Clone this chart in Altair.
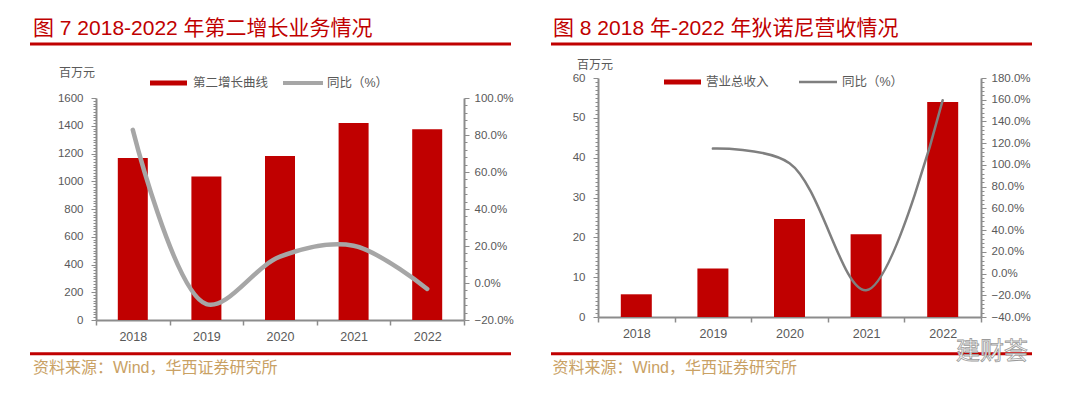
import altair as alt
import pandas as pd

# ---------------- data ----------------
years = ["2018", "2019", "2020", "2021", "2022"]
left_bars = [1168, 1035, 1182, 1420, 1374]          # 百万元
left_yoy = [82.8, -11.4, 14.2, 20.1, -3.2]          # %
right_bars = [5.7, 12.2, 24.6, 20.8, 54.0]          # 百万元
right_yoy = [None, 115.0, 101.6, -15.4, 159.6]      # %

left_title = "图 7 2018-2022 年第二增长业务情况"
right_title = "图 8 2018 年-2022 年狄诺尼营收情况"
left_bar_name = "第二增长曲线"
right_bar_name = "营业总收入"
yoy_name = "同比（%）"
unit_label = "百万元"
source_text = "资料来源：Wind，华西证券研究所"
watermark = "建财荟"

# ---------------- style ----------------
FONT = "Liberation Sans, Arial, Noto Sans CJK SC"
RED = "#C00000"
AX = "#8C8C8C"
LAB = "#595959"
SRC = "#C9A164"

one = pd.DataFrame({"k": [0]})


def txt(text, x, y, size, color, align="left", baseline="alphabetic", **kw):
    return alt.Chart(one).mark_text(
        text=text, align=align, baseline=baseline, fontSize=size,
        color=color, font=FONT, **kw
    ).encode(x=alt.value(x), y=alt.value(y))


def hrule(x1, x2, y, color, width):
    return alt.Chart(one).mark_rule(color=color, strokeWidth=width, strokeCap="butt").encode(
        x=alt.value(x1), x2=alt.value(x2), y=alt.value(y)
    )


def panel(bars, yoy, W, H, ytop, ymax, ymajor, yminor, pmin, pmax, pmajor, pminor,
          line_color, line_width, decos, bar_size):
    df = pd.DataFrame({"year": years, "value": bars, "yoy": yoy})
    xenc = alt.X(
        "year:N", sort=years, title=None,
        scale=alt.Scale(paddingInner=0, paddingOuter=0),
        axis=alt.Axis(labelAngle=0, tickBand="extent", domainColor=AX, domainWidth=2,
                      tickColor=AX, tickWidth=1.5, tickSize=5, labelColor=LAB,
                      labelFontSize=12.5, labelFont=FONT, labelPadding=5, grid=False),
    )
    bar = alt.Chart(df).mark_bar(size=bar_size, color=RED).encode(
        x=xenc,
        y=alt.Y(
            "value:Q", title=None,
            scale=alt.Scale(domain=[0, ymax], range=[H, ytop], nice=False, zero=True),
            axis=alt.Axis(
                orient="left", values=list(range(0, ymax + 1, yminor)), format="d",
                labelExpr=f"datum.value % {ymajor} === 0 ? datum.label : ''",
                tickSize={"condition": {"test": f"datum.value % {ymajor} === 0", "value": 5}, "value": 3},
                labelOverlap=False, grid=False, domainColor=AX, domainWidth=2,
                tickColor=AX, tickWidth=1, labelColor=LAB, labelFontSize=11.5,
                labelFont=FONT, labelPadding=8,
            ),
        ),
    )
    line = alt.Chart(df).mark_line(
        color=line_color, strokeWidth=line_width, interpolate="catmull-rom", strokeCap="round"
    ).encode(
        x=xenc,
        y=alt.Y(
            "yoy:Q", title=None,
            scale=alt.Scale(domain=[pmin, pmax], range=[H, ytop], nice=False, zero=False),
            axis=alt.Axis(
                orient="right", values=list(range(pmin, pmax + 1, pminor)),
                labelExpr=f"datum.value % {pmajor} === 0 ? format(datum.value, '.1f') + '%' : ''",
                tickSize={"condition": {"test": f"datum.value % {pmajor} === 0", "value": 5}, "value": 3},
                labelOverlap=False, grid=False, domainColor=AX, domainWidth=2,
                tickColor=AX, tickWidth=1, labelColor=LAB, labelFontSize=11.5,
                labelFont=FONT, labelPadding=5,
            ),
        ),
    )
    return alt.layer(bar, line, *decos).resolve_scale(y="independent").properties(width=W, height=H)


# ---------------- left panel (plot origin at page 95,77) ----------------
left_decos = [
    hrule(-87, -86, -69, "white", 1),                       # layout anchor
    txt(left_title, -63, -43.5, 21, RED),
    hrule(-66, 415, -34, RED, 3),
    txt(unit_label, -37, -1.5, 12, LAB),
    hrule(54, 91, 5, RED, 5),
    txt(left_bar_name, 97, 5, 12.5, LAB, baseline="middle"),
    hrule(187, 227, 5, "#A6A6A6", 4),
    txt(yoy_name, 231, 5, 12.5, LAB, baseline="middle"),
    hrule(-66, 415, 275.7, RED, 3),
    txt(source_text, -63, 295, 16, SRC),
]
left = panel(left_bars, left_yoy, 368, 242, 20, 1600, 200, 20, -20, 100, 20, 4,
             "#A6A6A6", 4.5, left_decos, 30)

# ---------------- right panel (plot origin at page 597,77) ----------------
right_decos = [
    txt(right_title, -45, -43.5, 21, RED),
    hrule(-47, 434, -34, RED, 3),
    txt(unit_label, -21, -9.5, 12, LAB),
    hrule(66, 103, 4, RED, 5),
    txt(right_bar_name, 108, 4, 12.5, LAB, baseline="middle"),
    hrule(201, 239, 4, "#7F7F7F", 2.5),
    txt(yoy_name, 244, 4, 12.5, LAB, baseline="middle"),
    hrule(-47, 434, 275.7, RED, 3),
    txt(source_text, -45.5, 295, 16, SRC),
    txt(watermark, 358, 281, 24, "#FFFFFF", stroke="#9A9A9A", strokeWidth=0.8),
]
right = panel(right_bars, right_yoy, 383, 239, 0, 60, 10, 1, -40, 180, 20, 4,
              "#7F7F7F", 2.5, right_decos, 31)

chart = alt.hconcat(left, right, spacing=134, bounds="flush").properties(
    padding=0, background="white"
).configure_view(strokeWidth=0)

chart.save("out.html", embed_options={"renderer": "svg", "actions": False})
